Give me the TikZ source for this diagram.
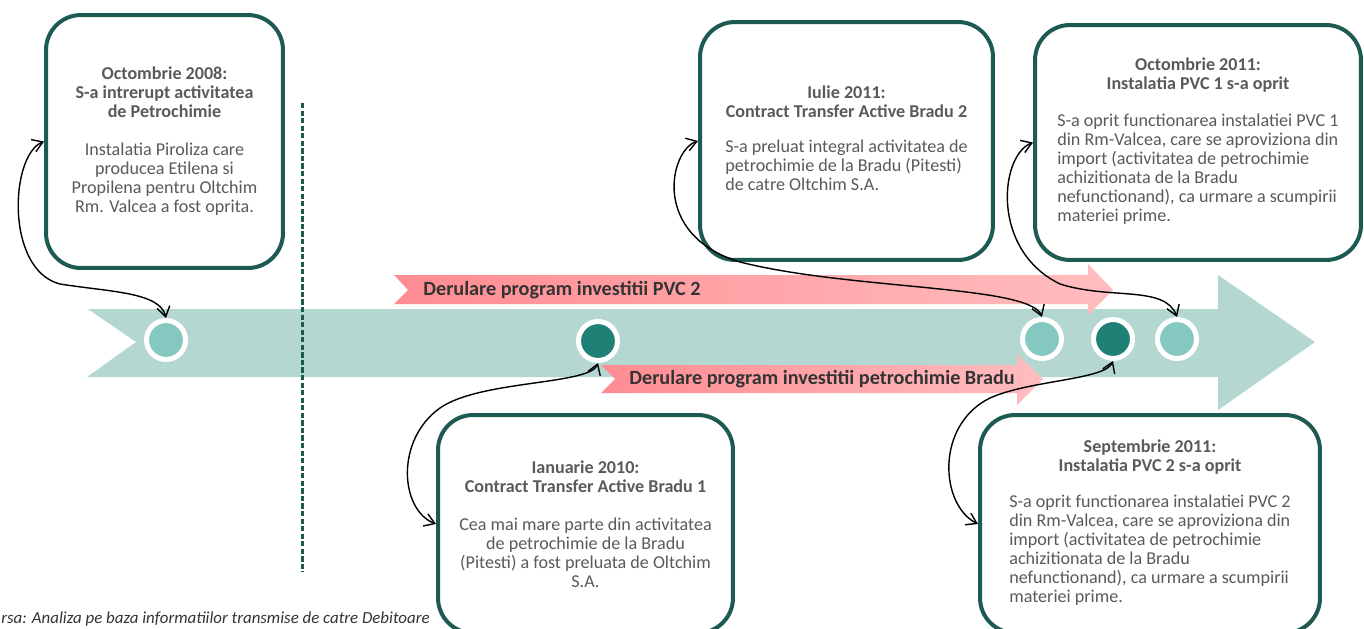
\documentclass[tikz,border=0pt]{standalone}
\usepackage{fontspec}
\setmainfont{Carlito}
\usetikzlibrary{arrows.meta,positioning}

\definecolor{tealband}{HTML}{B4D7D2}
\definecolor{teallight}{HTML}{84C8C0}
\definecolor{tealdark}{HTML}{1F8076}
\definecolor{boxedge}{HTML}{1C5A52}
\definecolor{pinkdark}{HTML}{FF8C92}
\definecolor{pinklight}{HTML}{FFBDBF}
\definecolor{txtgray}{HTML}{5A5A5A}
\definecolor{txtdark}{HTML}{333333}

\begin{document}
\begin{tikzpicture}[
    x=0.02cm, y=-0.02cm,
    event/.style={draw=boxedge, line width=0.08cm, rounded corners=0.7cm, fill=white, align=center, text=txtgray, font=\fontsize{10.3}{10.8}\selectfont, inner sep=0pt},
    dot/.style={circle, draw=white, line width=0.1cm, minimum size=0.78cm, inner sep=0pt},
    band/.style={font=\bfseries\fontsize{11.5}{13}\selectfont, text=txtdark, anchor=west, inner sep=0pt},
    link/.style={{Straight Barb[length=2mm,width=2.6mm]}-{Straight Barb[length=2mm,width=2.6mm]}, line width=0.8pt, black}
]
\path[use as bounding box, clip] (0,0) rectangle (1364,628);

% Main timeline arrow
\fill[tealband] (88,309) -- (1218,309) -- (1218,275) -- (1315,342) -- (1218,410) -- (1218,377) -- (87,377) -- (136,342) -- cycle;

% Programme bands
\shade[left color=pinkdark, right color=pinklight] (394,275) -- (1088,275) -- (1088,264) -- (1113,290) -- (1088,315) -- (1088,304) -- (394,304) -- (408,290) -- cycle;
\shade[left color=pinkdark, right color=pinklight] (601,365) -- (1017,365) -- (1017,354) -- (1043,379) -- (1017,405) -- (1017,393) -- (601,393) -- (615,379) -- cycle;
\node[band] (pvcband) at (423,290) {Derulare program investitii PVC 2};
\node[band] (bradband) at (629,379) {Derulare program investitii petrochimie Bradu};

% Separator
\draw[boxedge, line width=0.06cm, dash pattern=on 3pt off 1.3pt] (302,103) -- (302,572);

% Milestones
\node[dot, fill=teallight] (c1) at (166,340) {};
\node[dot, fill=tealdark] (c2) at (598,341) {};
\node[dot, fill=teallight] (c3) at (1042,339) {};
\node[dot, fill=tealdark] (c4) at (1113,339) {};
\node[dot, fill=teallight] (c5) at (1177,339) {};

% Event boxes
\node[event, minimum width=4.74cm, minimum height=5.06cm] (oct08) at (164.5,141.5)
  {\textbf{Octombrie 2008:}\\\textbf{S-a intrerupt activitatea}\\\textbf{de Petrochimie}\\[10.8pt]
   Instalatia Piroliza care\\producea Etilena si\\Propilena pentru Oltchim\\Rm. Valcea a fost oprita.};
\node[event, minimum width=5.86cm, minimum height=4.76cm] (jul11) at (846.5,141)
  {\textbf{Iulie 2011:}\\\textbf{Contract Transfer Active Bradu 2}\\[10.8pt]
   \begin{tabular}{@{}l@{}}S-a preluat integral activitatea de\\petrochimie de la Bradu (Pitesti)\\de catre Oltchim S.A.\end{tabular}};
\node[event, minimum width=6.52cm, minimum height=4.7cm] (oct11) at (1198,142.5)
  {\textbf{Octombrie 2011:}\\\textbf{Instalatia PVC 1 s-a oprit}\\[10.8pt]
   \begin{tabular}{@{}l@{}}S-a oprit functionarea instalatiei PVC 1\\din Rm-Valcea, care se aproviziona din\\import (activitatea de petrochimie\\achizitionata de la Bradu\\nefunctionand), ca urmare a scumpirii\\materiei prime.\end{tabular}};
\node[event, minimum width=5.9cm, minimum height=4.36cm] (jan10) at (585.5,524)
  {\textbf{Ianuarie 2010:}\\\textbf{Contract Transfer Active Bradu 1}\\[10.8pt]
   Cea mai mare parte din activitatea\\de petrochimie de la Bradu\\(Pitesti) a fost preluata de Oltchim\\S.A.};
\node[event, minimum width=6.8cm, minimum height=4.36cm] (sep11) at (1150,524)
  {\textbf{Septembrie 2011:}\\\textbf{Instalatia PVC 2 s-a oprit}\\[10.8pt]
   \begin{tabular}{@{}l@{}}S-a oprit functionarea instalatiei PVC 2\\din Rm-Valcea, care se aproviziona din\\import (activitatea de petrochimie\\achizitionata de la Bradu\\nefunctionand), ca urmare a scumpirii\\materiei prime.\end{tabular}};

% Connectors
\draw[link] (oct08.west) .. controls (10,155) and (5,270) .. (60,284) .. controls (110,292) and (160,292) .. (c1.north);
\draw[link] (c2.south) .. controls (590,385) and (480,380) .. (440,408) .. controls (395,440) and (400,510) .. (jan10.west);
\draw[link] (jul11.west) .. controls (670,150) and (650,235) .. (740,262) .. controls (850,290) and (1030,285) .. (c3.north);
\draw[link] (oct11.west) .. controls (1000,155) and (990,250) .. (1060,284) .. controls (1110,300) and (1165,285) .. (c5.north);
\draw[link] (c4.south) .. controls (1105,380) and (1030,380) .. (990,398) .. controls (935,425) and (940,505) .. (sep11.west);

% Source
\node[anchor=base west, inner sep=0pt, font=\itshape\fontsize{9.6}{12}\selectfont, text=txtdark] (source) at (1,623)
  {rsa: Analiza pe baza informatiilor transmise de catre Debitoare};

\end{tikzpicture}
\end{document}
